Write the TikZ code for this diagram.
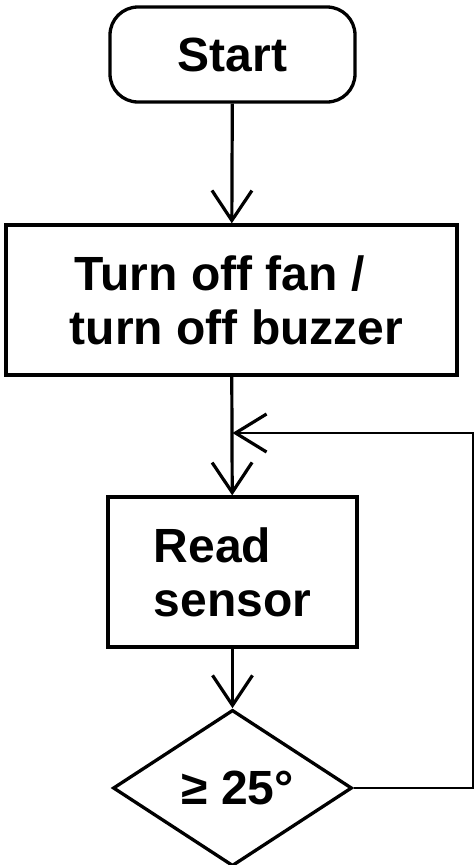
\documentclass[tikz,border=0pt]{standalone}
\usepackage{fontspec}
\setmainfont{Liberation Sans}
\usetikzlibrary{shapes.geometric,arrows.meta}
\begin{document}
\begin{tikzpicture}[x=1pt,y=-1pt,
  every node/.style={font=\fontsize{48}{54}\selectfont\bfseries, inner sep=0pt},
  box/.style={draw, line width=3.3pt, rectangle},
  flow/.style={line width=3.2pt, -{Straight Barb[length=30pt,width=40pt,line width=3.2pt]}},
  back/.style={line width=2.2pt, -{Straight Barb[length=31pt,width=38pt,line width=3.2pt]}}]
  \useasboundingbox (0,0) rectangle (475,865);
  % start terminal
  \node[box, rounded corners=28pt, minimum width=245pt, minimum height=95pt] (start) at (232.5,54.5) {Start};
  % initialisation step
  \node[box, minimum width=451pt, minimum height=150pt, align=left] (init) at (231.5,300) {\hspace*{15pt}Turn off fan /\\\hspace*{10pt}turn off buzzer};
  % sensor reading
  \node[box, minimum width=249pt, minimum height=150pt, align=left] (read) at (232.5,572) {Read\\sensor};
  % threshold test
  \node[draw, line width=3.3pt, diamond, minimum width=239pt, minimum height=150pt] (test) at (232.5,788) {\hspace*{10pt}≥ 25°};
  \coordinate (join) at (read.north |- 0,433);
  \coordinate (corner1) at (473,788);
  \coordinate (corner2) at (473,433);
  % connectors
  \draw[flow] (start) -- (init);
  \draw[flow] (init) -- (read);
  \draw[flow] (read) -- (test);
  \draw[back] (test.east) -- (corner1) -- (corner2) -- (join);
\end{tikzpicture}
\end{document}
